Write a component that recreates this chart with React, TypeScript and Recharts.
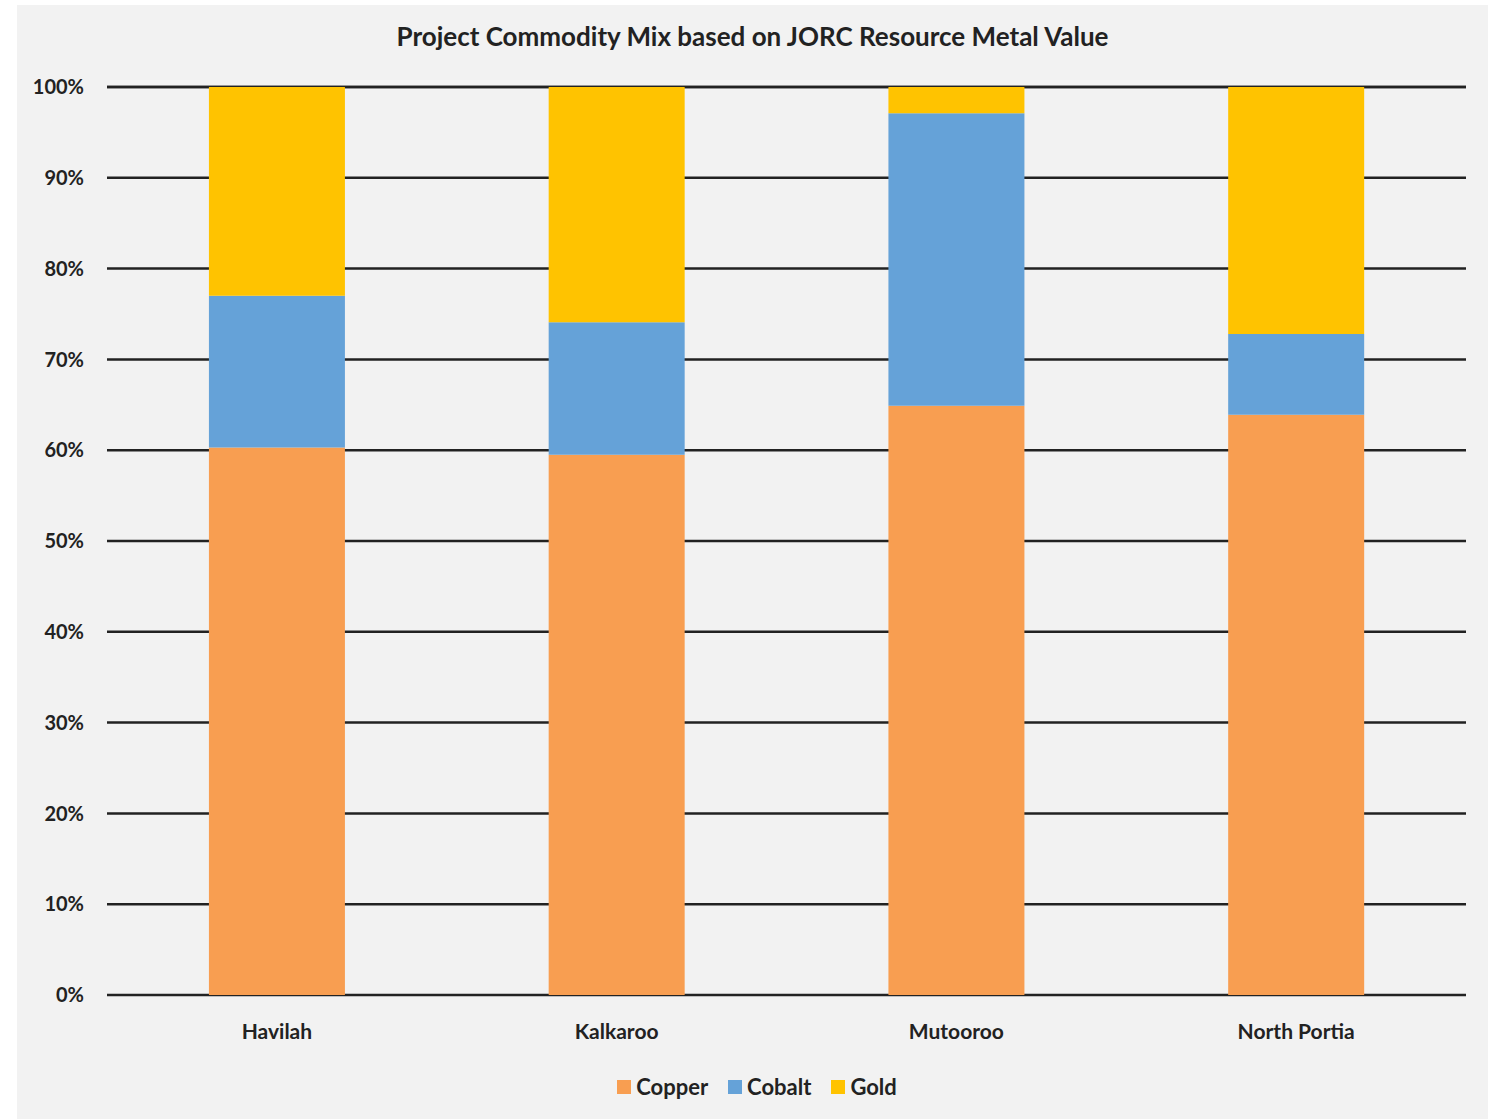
import React from 'react';
import { BarChart, Bar, XAxis, YAxis, CartesianGrid, Legend } from 'recharts';

const categories = ['Havilah', 'Kalkaroo', 'Mutooroo', 'North Portia'];
const copper = [60.3, 59.5, 64.9, 63.9];
const cobalt = [16.7, 14.6, 32.2, 8.9];
const gold = [23.0, 25.9, 2.9, 27.2];
const yTicks = [0, 10, 20, 30, 40, 50, 60, 70, 80, 90, 100];

const series = [
  { key: 'Copper', color: '#F89E51', values: copper },
  { key: 'Cobalt', color: '#65A2D8', values: cobalt },
  { key: 'Gold', color: '#FFC300', values: gold },
];

const data = categories.map((name, i) => {
  const row: Record<string, string | number> = { name };
  series.forEach((s) => {
    row[s.key] = s.values[i];
  });
  return row;
});

const FONT = 'Lato, "Open Sans", sans-serif';

const renderLegend = () => (
  <div style={{ display: 'flex', justifyContent: 'center', alignItems: 'center', paddingLeft: 31, fontFamily: FONT, fontWeight: 700, fontSize: 22, color: '#222' }}>
    {series.map((s) => (
      <div key={s.key} style={{ display: 'flex', alignItems: 'center', margin: '0 10px' }}>
        <span style={{ display: 'inline-block', width: 14, height: 14, background: s.color, marginRight: 5 }} />
        <span>{s.key}</span>
      </div>
    ))}
  </div>
);

export default function App() {
  return (
    <div style={{ position: 'absolute', left: 0, top: 0, width: 1496, height: 1119, background: '#ffffff' }}>
      <div style={{ position: 'absolute', left: 17, top: 5, width: 1471, height: 1114, background: '#f2f2f2' }}>
        <div style={{ position: 'absolute', left: 0, top: 15, width: 1471, textAlign: 'center', fontFamily: FONT, fontWeight: 700, fontSize: 26, color: '#222' }}>
          Project Commodity Mix based on JORC Resource Metal Value
        </div>
        <BarChart
          width={1471}
          height={1114}
          data={data}
          margin={{ top: 82, right: 22, left: 0, bottom: 12 }}
          barCategoryGap="30%"
        >
          <CartesianGrid vertical={false} horizontal stroke="#222" strokeWidth={2.5} />
          <XAxis
            dataKey="name"
            axisLine={false}
            tickLine={false}
            tickSize={0}
            tickMargin={29}
            height={78}
            tick={{ fill: '#222', fontFamily: FONT, fontWeight: 700, fontSize: 21 }}
          />
          <YAxis
            domain={[0, 100]}
            ticks={yTicks}
            width={90}
            axisLine={false}
            tickLine={false}
            tickSize={0}
            tickMargin={23}
            tickFormatter={(v: number) => `${v}%`}
            tick={{ fill: '#222', fontFamily: FONT, fontWeight: 700, fontSize: 20 }}
          />
          <Legend verticalAlign="bottom" height={34} content={renderLegend} />
          {series.map((s) => (
            <Bar key={s.key} dataKey={s.key} stackId="a" fill={s.color} isAnimationActive={false} />
          ))}
        </BarChart>
      </div>
    </div>
  );
}
